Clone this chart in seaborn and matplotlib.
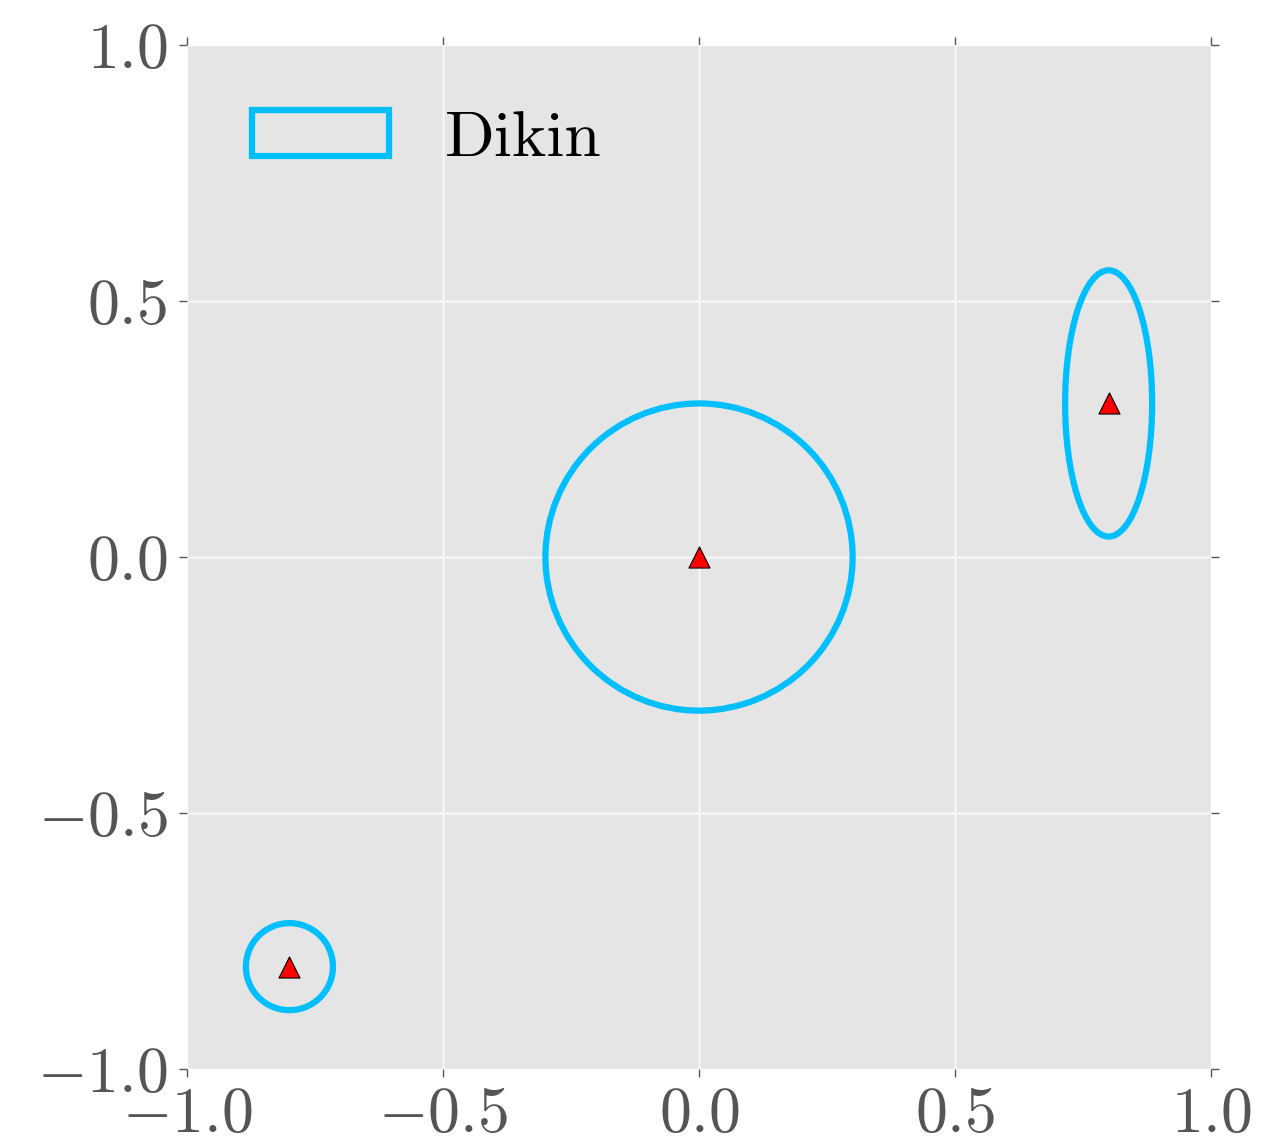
import numpy as np
import pandas as pd
import matplotlib
matplotlib.use("Agg")
import matplotlib.pyplot as plt
from matplotlib.patches import Ellipse
import seaborn as sns

# ellipse centres and full axis lengths
centers_x = [0.0, 0.8, -0.8]
centers_y = [0.0, 0.3, -0.8]
widths = [0.6, 0.17, 0.17]
heights = [0.6, 0.52, 0.17]
ticks = [-1.0, -0.5, 0.0, 0.5, 1.0]

sns.set_theme(style="darkgrid", rc={
    "axes.facecolor": "#E5E5E5",
    "grid.color": "white",
    "grid.linewidth": 1.0,
    "axes.edgecolor": "white",
})
plt.rcParams["font.family"] = "serif"
plt.rcParams["font.serif"] = ["cmr10"]
plt.rcParams["mathtext.fontset"] = "cm"
plt.rcParams["axes.formatter.use_mathtext"] = True

fig = plt.figure(figsize=(12.62, 11.43), dpi=100)
ax = fig.add_axes([0.1482, 0.0647, 0.8114, 0.8959])

for i in range(len(centers_x)):
    e = Ellipse((centers_x[i], centers_y[i]), widths[i], heights[i],
                fill=False, edgecolor="deepskyblue", linewidth=4.5,
                label="Dikin" if i == 0 else None, zorder=2)
    ax.add_patch(e)

df = pd.DataFrame({"x": centers_x, "y": centers_y})
sns.scatterplot(data=df, x="x", y="y", marker="^", color="red",
                edgecolor="black", linewidth=0.8, s=230, zorder=3, ax=ax)

ax.set_xlim(-1, 1)
ax.set_ylim(-1, 1)
ax.set_xticks(ticks)
ax.set_yticks(ticks)
ax.set_xlabel("")
ax.set_ylabel("")
for s in ax.spines.values():
    s.set_visible(False)
ax.tick_params(axis="both", which="both", direction="out", length=6, width=1,
               color="#555555", labelcolor="#555555", labelsize=46, pad=8,
               top=True, right=True, bottom=True, left=True)
ax.tick_params(axis="x", pad=7)

leg = ax.legend(loc="upper left", frameon=False, fontsize=47, handlelength=2.1,
                handletextpad=0.85, borderaxespad=0.6)
for t in leg.get_texts():
    t.set_color("black")

fig.savefig("out.png", dpi=100)
